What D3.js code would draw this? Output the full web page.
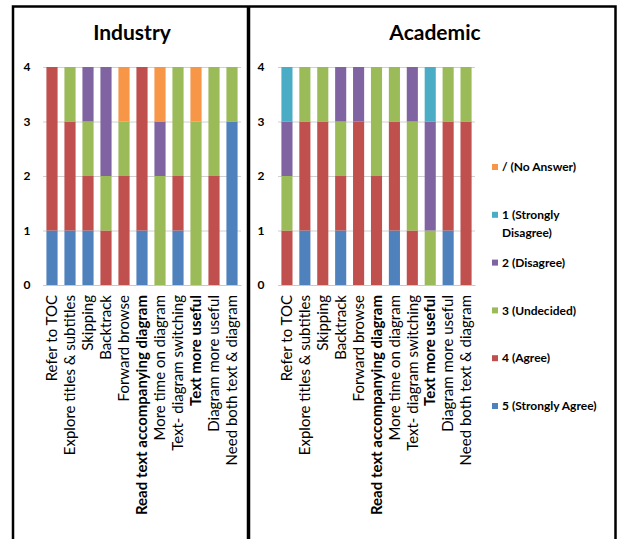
<!DOCTYPE html>
<html>
<head>
<meta charset="utf-8">
<script src="https://cdn.jsdelivr.net/npm/d3@7"></script>
<style>
  body { margin: 0; background: #fff; }
  text { font-family: Lato, "Open Sans", sans-serif; fill: #000; }
</style>
</head>
<body>
<div id="chart"></div>
<script>
// data below

var categories = ["Refer to TOC", "Explore titles & subtitles", "Skipping", "Backtrack",
    "Forward browse", "Read text accompanying diagram", "More time on diagram",
    "Text- diagram switching", "Text more useful", "Diagram more useful",
    "Need both text & diagram"];

var seriesNames = ["5 (Strongly Agree)", "4 (Agree)", "3 (Undecided)", "2 (Disagree)",
    "1 (Strongly Disagree)", "/ (No Answer)"];

var seriesColors = ["#4F81BD", "#C0504D", "#9BBB59", "#8064A2", "#4BACC6", "#F79646"];

var yTicks = [0, 1, 2, 3, 4];

// industry
var indStronglyAgree    = [1, 1, 1, 0, 0, 1, 0, 1, 0, 0, 3],
    indAgree            = [3, 2, 1, 1, 2, 3, 0, 1, 0, 2, 0],
    indUndecided        = [0, 1, 1, 1, 1, 0, 2, 2, 3, 2, 1],
    indDisagree         = [0, 0, 1, 2, 0, 0, 1, 0, 0, 0, 0],
    indStronglyDisagree = [0, 0, 0, 0, 0, 0, 0, 0, 0, 0, 0],
    indNoAnswer         = [0, 0, 0, 0, 1, 0, 1, 0, 1, 0, 0];

// academic
var acaStronglyAgree    = [0, 1, 0, 1, 0, 0, 1, 0, 0, 1, 0],
    acaAgree            = [1, 2, 3, 1, 3, 2, 2, 1, 0, 2, 3],
    acaUndecided        = [1, 1, 1, 1, 0, 2, 1, 2, 1, 1, 1],
    acaDisagree         = [1, 0, 0, 1, 1, 0, 0, 1, 2, 0, 0],
    acaStronglyDisagree = [1, 0, 0, 0, 0, 0, 0, 0, 1, 0, 0],
    acaNoAnswer         = [0, 0, 0, 0, 0, 0, 0, 0, 0, 0, 0];

// rest of logic below

function toRows(cols) {
    return categories.map(function(c, i) {
        var row = { cat: c };
        seriesNames.forEach(function(s, j) { row[s] = cols[j][i]; });
        return row;
    });
}

var panels = [
    { title: "Industry", titleX: 132, left: 43, right: 241, labelX: 27,
      rows: toRows([indStronglyAgree, indAgree, indUndecided, indDisagree, indStronglyDisagree, indNoAnswer]) },
    { title: "Academic", titleX: 435, left: 278, right: 475, labelX: 261,
      rows: toRows([acaStronglyAgree, acaAgree, acaUndecided, acaDisagree, acaStronglyDisagree, acaNoAnswer]) }
];

var W = 621, H = 539,
    plotTop = 67, plotBottom = 285;

var svg = d3.select("#chart")
    .append("svg")
    .attr("width", W)
    .attr("height", H);

var color = d3.scaleOrdinal().domain(seriesNames).range(seriesColors);

var y = d3.scaleLinear()
    .domain([0, 4])
    .range([plotBottom, plotTop]);

var stack = d3.stack().keys(seriesNames);

panels.forEach(function(p) {
    var x = d3.scaleBand()
        .domain(categories)
        .range([p.left, p.right])
        .paddingInner(0.38)
        .paddingOuter(0.19);

    var g = svg.append("g");

    g.append("text")
        .attr("x", p.titleX)
        .attr("y", 40)
        .attr("text-anchor", "middle")
        .style("font-size", "21px")
        .style("font-weight", "bold")
        .text(p.title);

    // gridlines
    var yAxis = d3.axisLeft(y)
        .tickValues(yTicks)
        .tickSize(-(p.right - p.left))
        .tickFormat("");

    var gY = g.append("g")
        .attr("transform", "translate(" + p.left + ",0)")
        .call(yAxis);
    gY.select(".domain").remove();
    gY.selectAll("line").attr("stroke", "#d0d0d0");

    yTicks.forEach(function(t) {
        g.append("text")
            .attr("x", p.labelX)
            .attr("y", y(t))
            .attr("dy", "0.35em")
            .attr("text-anchor", "middle")
            .style("font-size", "12px")
            .style("font-weight", "bold")
            .text(t);
    });

    g.selectAll(".layer")
        .data(stack(p.rows))
        .enter()
        .append("g")
        .attr("fill", function(d) { return color(d.key); })
        .selectAll("rect")
        .data(function(d) { return d; })
        .enter()
        .append("rect")
        .attr("x", function(d) { return x(d.data.cat); })
        .attr("y", function(d) { return y(d[1]); })
        .attr("width", x.bandwidth())
        .attr("height", function(d) { return y(d[0]) - y(d[1]); });

    var gX = g.append("g")
        .attr("transform", "translate(0," + plotBottom + ")")
        .call(d3.axisBottom(x).tickSize(0).tickSizeOuter(0));
    gX.select(".domain").attr("stroke", "#c8c8c8");
    gX.selectAll("text")
        .attr("transform", "rotate(-90)")
        .attr("x", -10)
        .attr("y", 0)
        .attr("dy", "0.35em")
        .attr("text-anchor", "end")
        .style("font-family", "Lato, sans-serif")
        .style("font-size", "15px")
        .style("font-weight", function(d) { return d === "Read text accompanying diagram" || d === "Text more useful" ? "bold" : "normal"; })
        .style("fill", "#000");
});

// legend
var legend = svg.append("g")
    .selectAll("g")
    .data(seriesNames.slice().reverse())
    .enter()
    .append("g")
    .attr("transform", function(d, i) { return "translate(492," + (167 + i * 47.8) + ")"; });

legend.append("rect")
    .attr("x", 0)
    .attr("y", -3)
    .attr("width", 6)
    .attr("height", 6)
    .attr("fill", function(d) { return color(d); });

legend.append("text")
    .attr("x", 10)
    .attr("y", 0)
    .attr("dy", "0.35em")
    .style("font-size", "12px")
    .style("font-weight", "bold")
    .each(function(d) {
        var t = d3.select(this);
        if (d === "1 (Strongly Disagree)") {
            t.append("tspan").attr("x", 10).text("1 (Strongly");
            t.append("tspan").attr("x", 10).attr("dy", "1.5em").text("Disagree)");
        } else {
            t.text(d);
        }
    });

// frame
svg.append("path")
    .attr("d", "M13," + H + "V6.5H615.5V" + H)
    .attr("fill", "none")
    .attr("stroke", "#000")
    .attr("stroke-width", 2.5);

svg.append("line")
    .attr("x1", 248.5).attr("x2", 248.5)
    .attr("y1", 6).attr("y2", H)
    .attr("stroke", "#000")
    .attr("stroke-width", 3.5);
</script>
</body>
</html>
